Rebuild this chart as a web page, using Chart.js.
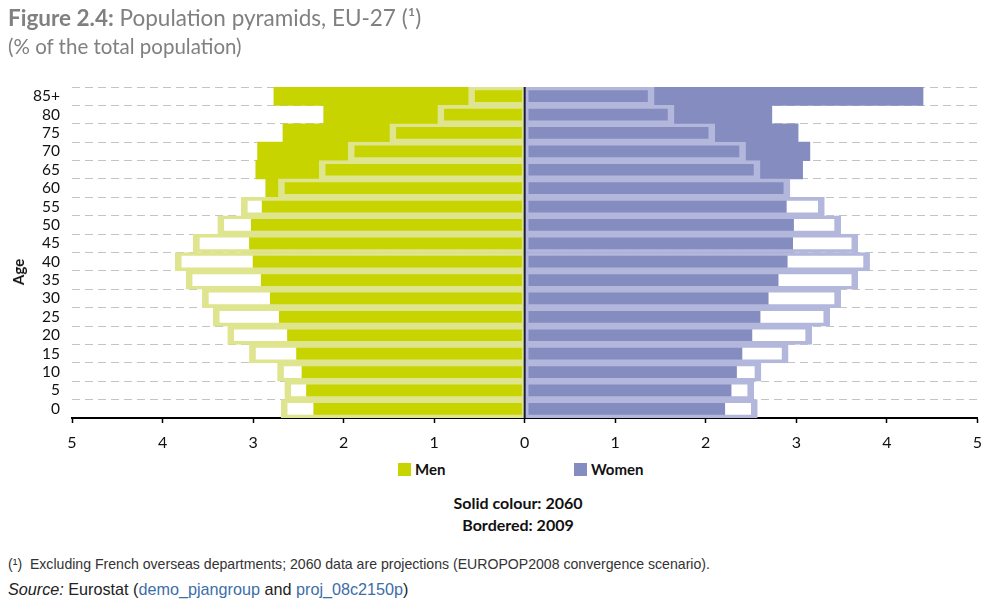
<!DOCTYPE html>
<html>
<head>
<meta charset="utf-8">
<script src="https://cdn.jsdelivr.net/npm/chart.js@4.4.1/dist/chart.umd.min.js"></script>
<style>
  html, body { margin: 0; padding: 0; background: #fff; }
  body { width: 992px; height: 616px; position: relative; overflow: hidden; font-family: Lato, "Open Sans", sans-serif; }
  #chart { position: absolute; left: 0; top: 0; }
  .abs { position: absolute; white-space: nowrap; }
  #title { left: 8px; top: 4px; font-size: 22.5px; color: #808080; }
  #title b { font-weight: 700; }
  #subtitle { left: 8px; top: 34px; font-size: 20.5px; color: #808080; }
  #age { left: 18px; top: 272px; transform: translate(-50%, -50%) rotate(-90deg); font-size: 15px; font-weight: 700; color: #111; }
  .leg { top: 460px; font-size: 15px; font-weight: 700; color: #111; display: flex; align-items: center; }
  .sw { width: 13px; height: 13px; display: inline-block; margin-right: 4px; }
  .note { font-size: 16px; font-weight: 700; color: #111; left: 518px; transform: translateX(-50%); }
  #foot { left: 8px; top: 556px; font-family: "Liberation Sans Narrow", "Liberation Sans", sans-serif; font-size: 14.1px; color: #333; }
  #src { left: 8px; top: 580px; font-family: "Liberation Sans Narrow", "Liberation Sans", sans-serif; font-size: 16.2px; color: #222; }
  #src a { color: #3d6ea8; text-decoration: none; }
</style>
</head>
<body>
<canvas id="chart" width="992" height="460"></canvas>
<div id="title" class="abs"><b>Figure 2.4:</b> Population pyramids, EU-27 (¹)</div>
<div id="subtitle" class="abs">(% of the total population)</div>
<div id="age" class="abs">Age</div>
<div class="abs leg" style="left:398px;"><span class="sw" style="background:#c8d400"></span>Men</div>
<div class="abs leg" style="left:574px;"><span class="sw" style="background:#858cc0"></span>Women</div>
<div class="abs note" style="top:493px;">Solid colour: 2060</div>
<div class="abs note" style="top:515px;">Bordered: 2009</div>
<div id="foot" class="abs">(¹)&nbsp;&nbsp;Excluding French overseas departments; 2060 data are projections (EUROPOP2008 convergence scenario).</div>
<div id="src" class="abs"><i>Source:</i> Eurostat (<a>demo_pjangroup</a> and <a>proj_08c2150p</a>)</div>
<script>
// Age groups, top to bottom
const ageLabels = ['85+','80','75','70','65','60','55','50','45','40','35','30','25','20','15','10','5','0'];
// % of total population
const men2060   = [2.77, 2.22, 2.67, 2.95, 2.97, 2.86, 2.90, 3.02, 3.04, 3.00, 2.91, 2.81, 2.71, 2.62, 2.52, 2.46, 2.41, 2.33];
const men2009   = [0.62, 0.96, 1.49, 1.95, 2.27, 2.72, 3.13, 3.39, 3.66, 3.86, 3.74, 3.56, 3.44, 3.28, 3.04, 2.73, 2.65, 2.69];
const women2060 = [4.40, 2.73, 3.02, 3.15, 3.07, 2.86, 2.89, 2.97, 2.96, 2.90, 2.80, 2.69, 2.60, 2.51, 2.40, 2.34, 2.28, 2.21];
const women2009 = [1.43, 1.65, 2.10, 2.44, 2.60, 2.93, 3.31, 3.49, 3.68, 3.81, 3.68, 3.49, 3.37, 3.17, 2.91, 2.61, 2.53, 2.57];
const xTickValues = [-5, -4, -3, -2, -1, 0, 1, 2, 3, 4, 5];

const MEN = '#c8d400', MEN_B = '#dfe48e';
const WOMEN = '#858cc0', WOMEN_B = '#b3b7dc';

const common = { grouped: false, barPercentage: 1, categoryPercentage: 1, borderSkipped: false };

const zeroLine = {
  id: 'zeroLine',
  afterDatasetsDraw(chart) {
    const x = chart.scales.x.getPixelForValue(0);
    const a = chart.chartArea;
    const ctx = chart.ctx;
    ctx.save();
    ctx.strokeStyle = '#1c1c3a';
    ctx.lineWidth = 2;
    ctx.beginPath();
    ctx.moveTo(x, a.top);
    ctx.lineTo(x, a.bottom);
    ctx.stroke();
    ctx.restore();
  }
};

new Chart(document.getElementById('chart'), {
  type: 'bar',
  data: {
    labels: ageLabels,
    datasets: [
      Object.assign({ label: 'Men 2009', data: men2009.map(v => -v), backgroundColor: 'rgba(0,0,0,0)', borderColor: MEN_B,
        borderWidth: { left: 6, right: 2, top: 3, bottom: 3 }, order: 0 }, common),
      Object.assign({ label: 'Women 2009', data: women2009, backgroundColor: 'rgba(0,0,0,0)', borderColor: WOMEN_B,
        borderWidth: { left: 3, right: 6, top: 3, bottom: 3 }, order: 0 }, common),
      Object.assign({ label: 'Men', data: men2060.map(v => -v), backgroundColor: MEN, borderWidth: 0, order: 1 }, common),
      Object.assign({ label: 'Women', data: women2060, backgroundColor: WOMEN, borderWidth: 0, order: 1 }, common)
    ]
  },
  options: {
    indexAxis: 'y',
    responsive: false,
    animation: false,
    events: [],
    layout: { padding: { top: 87, right: 14, bottom: 0, left: 0 } },
    plugins: { legend: { display: false }, tooltip: { enabled: false } },
    scales: {
      x: {
        min: -5, max: 5,
        afterFit: s => { s.height = 42; },
        afterBuildTicks: s => { s.ticks = xTickValues.map(v => ({ value: v })); },
        ticks: { callback: v => Math.abs(v), color: '#111', font: { family: 'Lato', size: 16 }, padding: 10 },
        grid: { drawOnChartArea: false, drawTicks: true, tickLength: 5, tickColor: '#000', tickWidth: 1.5 },
        border: { display: true, color: '#000', width: 2 }
      },
      y: {
        afterFit: s => { s.width = 72; },
        ticks: { color: '#111', font: { family: 'Lato', size: 15.5 }, padding: 12, autoSkip: false },
        grid: { color: '#c4c4c4', lineWidth: 1, drawTicks: false, offset: true },
        border: { display: false, dash: [8, 5] }
      }
    }
  },
  plugins: [zeroLine]
});
</script>
</body>
</html>
